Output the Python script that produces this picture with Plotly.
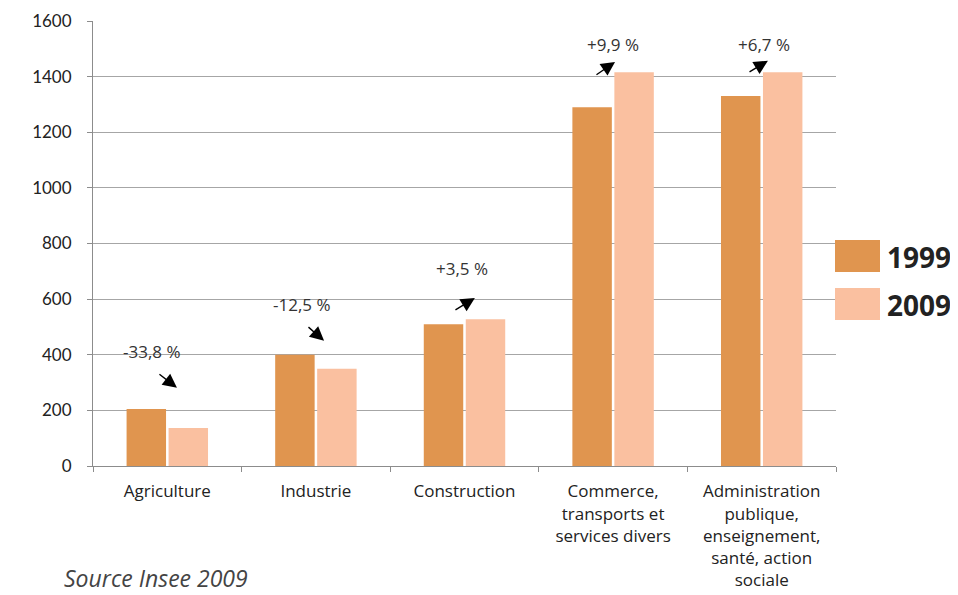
import plotly.graph_objects as go

categories = ["Agriculture", "Industrie", "Construction",
              "Commerce,<br>transports et<br>services divers",
              "Administration<br>publique,<br>enseignement,<br>santé, action<br>sociale"]
years = ["1999", "2009"]
values_1999 = [205, 400, 510, 1290, 1330]
values_2009 = [137, 350, 528, 1416, 1416]
changes = ["-33,8 %", "-12,5 %", "+3,5 %", "+9,9 %", "+6,7 %"]
y_ticks = [0, 200, 400, 600, 800, 1000, 1200, 1400, 1600]

color_1999 = "#E0954F"
color_2009 = "#FAC0A0"

# annotation placement (category index offsets, value units)
label_pos = [(-0.10, 410), (0.906, 579), (1.983, 709), (3.0, 1514), (4.015, 1514)]
arrow_tail = [(-0.063, 334), (0.94, 504), (1.929, 558), (2.878, 1403), (3.908, 1414)]
arrow_head = [(0.065, 281), (1.055, 450), (2.07, 604), (3.013, 1453), (4.042, 1457)]

# page body has an 8px offset; plot area target in window px: x 93..836, y 21..466
OFF = 8
L, T, W, H = 93 - OFF, 21 - OFF, 743, 445

fig = go.Figure()
fig.add_trace(go.Bar(x=categories, y=values_1999, name=years[0],
                     marker=dict(color=color_1999, line=dict(width=0)), showlegend=False))
fig.add_trace(go.Bar(x=categories, y=values_2009, name=years[1],
                     marker=dict(color=color_2009, line=dict(width=0)), showlegend=False))

annotations = []
for txt, (lx, ly), (tx, ty), (hx, hy) in zip(changes, label_pos, arrow_tail, arrow_head):
    annotations.append(dict(x=lx, y=ly, xref="x", yref="y", text=txt, showarrow=False,
                            font=dict(family="Open Sans", size=17, color="#333333")))
    annotations.append(dict(x=hx, y=hy, ax=tx, ay=ty, xref="x", yref="y", axref="x", ayref="y",
                            text="", showarrow=True, arrowhead=2, arrowsize=2.0,
                            arrowwidth=1.4, arrowcolor="#000000"))


def px_x(p):
    return (p - 93) / W


def px_y(p):
    return (466 - p) / H


# custom legend with large swatches
shapes = []
for i, (yr, col) in enumerate(zip(years, [color_1999, color_2009])):
    top = 240 + i * 48
    shapes.append(dict(type="rect", xref="paper", yref="paper",
                       x0=px_x(835), x1=px_x(880),
                       y0=px_y(top + 32), y1=px_y(top), fillcolor=col, line=dict(width=0)))
    annotations.append(dict(x=px_x(885), y=px_y(top + 17), xref="paper", yref="paper",
                            text="<b>" + yr + "</b>", showarrow=False, xanchor="left",
                            yanchor="middle",
                            font=dict(family="Open Sans", size=28, color="#222222")))

annotations.append(dict(x=px_x(62), y=px_y(578), xref="paper", yref="paper",
                        text="<i>Source Insee 2009</i>",
                        showarrow=False, xanchor="left", yanchor="middle",
                        font=dict(family="Open Sans", size=23, color="#444444")))

fig.update_layout(
    width=958, height=595,
    margin=dict(l=L, r=958 - L - W, t=T, b=595 - T - H, autoexpand=False),
    paper_bgcolor="white", plot_bgcolor="white",
    barmode="group", bargap=0.435, bargroupgap=0.06,
    annotations=annotations, shapes=shapes,
    xaxis=dict(showline=True, linecolor="#8c8c8c", linewidth=1, ticks="outside",
               tickson="boundaries", ticklen=5, tickcolor="#8c8c8c",
               ticklabelstandoff=10,
               tickfont=dict(family="Open Sans", size=17, color="#222222"),
               showgrid=False),
    yaxis=dict(range=[0, 1600], tickvals=y_ticks, showline=True, linecolor="#8c8c8c",
               linewidth=1, ticks="outside", ticklen=5, tickcolor="#8c8c8c",
               ticklabelstandoff=12,
               gridcolor="#a6a6a6", gridwidth=1, zeroline=False,
               tickfont=dict(family="Lato", size=17, color="#222222")),
)

fig.write_html("out.html")
